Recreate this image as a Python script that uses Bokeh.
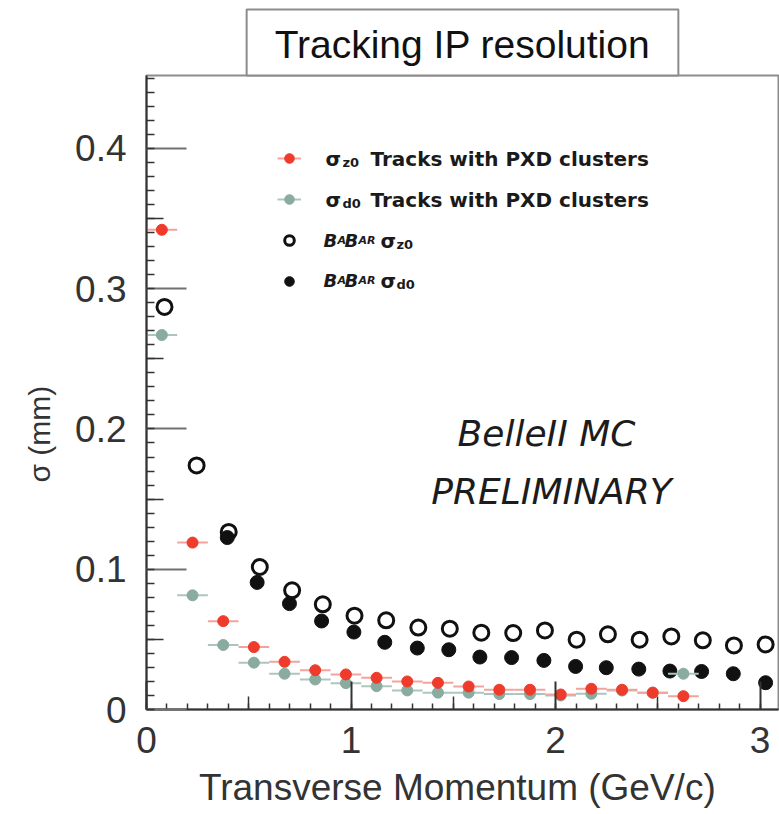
import numpy as np
from bokeh.plotting import figure
from bokeh.models import (ColumnDataSource, Label, Legend, LegendItem, LinearAxis,
                          FixedTicker, Range1d)
from bokeh.embed import file_html
from bokeh.resources import INLINE

# ---------------- data ----------------
pt_bins = [0.075, 0.225, 0.375, 0.525, 0.675, 0.825, 0.975, 1.125, 1.275,
           1.425, 1.575, 1.725, 1.875, 2.025, 2.175, 2.325, 2.475, 2.625]
bin_half_width = 0.075
sigma_z0_pxd = [0.342, 0.119, 0.063, 0.0445, 0.034, 0.028, 0.025, 0.0226, 0.020,
                0.019, 0.0164, 0.0141, 0.0141, 0.0107, 0.0148, 0.0141, 0.012, 0.0095]
sigma_d0_pxd = [0.267, 0.0814, 0.046, 0.0334, 0.0255, 0.0214, 0.0188, 0.0166, 0.0136,
                0.012, 0.012, 0.011, 0.011, 0.010, 0.0112, 0.0135, 0.012, 0.0255]

babar_z0_pt = [0.088, 0.245, 0.402, 0.554, 0.712, 0.862, 1.017, 1.172, 1.329, 1.483,
               1.637, 1.793, 1.948, 2.103, 2.256, 2.411, 2.566, 2.72, 2.872, 3.027]
babar_z0 = [0.287, 0.174, 0.1266, 0.1016, 0.085, 0.075, 0.0669, 0.0636, 0.0584, 0.0576,
            0.0548, 0.0545, 0.0564, 0.0498, 0.0536, 0.0498, 0.0521, 0.0493, 0.0457, 0.0464]
babar_d0_pt = [0.395, 0.541, 0.699, 0.856, 1.014, 1.165, 1.324, 1.478, 1.63,
               1.785, 1.943, 2.098, 2.248, 2.407, 2.559, 2.714, 2.869, 3.027]
babar_d0 = [0.1226, 0.0906, 0.0755, 0.0631, 0.0552, 0.0479, 0.0438, 0.0426, 0.0374,
            0.037, 0.035, 0.0307, 0.0298, 0.0288, 0.0274, 0.0271, 0.0255, 0.0191]

x_ticks = [0, 1, 2, 3]
x_tick_labels = ["0", "1", "2", "3"]
x_mid_ticks = [0.5, 1.5, 2.5]
y_ticks = [0, 0.1, 0.2, 0.3, 0.4]
y_tick_labels = ["0", "0.1", "0.2", "0.3", "0.4"]
y_mid_ticks = [0.05, 0.15, 0.25, 0.35]

title_text = "Tracking IP resolution"
x_title = "Transverse Momentum  (GeV/c)"
y_title = "\u03c3  (mm)"
watermark = ["BelleII MC", "PRELIMINARY"]

# ---------------- styles ----------------
RED = "#ee3b2c"
RED_ERR = "#f3a39c"
GRN = "#8aab9f"
GRN_ERR = "#adc6bd"
BLK = "#111111"
AXC = "#333333"
SANS = "Liberation Sans"
LEG = "DejaVu Sans"

p = figure(width=779, height=814, x_range=Range1d(0, 3.09), y_range=Range1d(0, 0.452),
           output_backend="svg", toolbar_location=None,
           min_border_left=146, min_border_right=1, min_border_top=75,
           min_border_bottom=105)
p.grid.visible = False
p.outline_line_color = "#8c8c8c"
p.outline_line_width = 2
p.background_fill_color = "white"
p.border_fill_color = "white"

# title box
p.title.text = title_text
p.title.align = "center"
p.title.text_font = SANS
p.title.text_font_size = "39px"
p.title.text_font_style = "normal"
p.title.text_color = "#111111"
p.title.border_line_color = "#8c8c8c"
p.title.border_line_width = 2
p.title.background_fill_color = "white"
p.title.padding = dict(top=13, right=28, bottom=10, left=28)
p.title.standoff = 0

# main axes
xa = p.xaxis[0]
xa.ticker = FixedTicker(ticks=x_ticks, minor_ticks=[round(i * 0.1, 1) for i in range(31)])
xa.major_label_overrides = {t: l for t, l in zip(x_ticks, x_tick_labels)}
xa.axis_line_color = AXC
xa.axis_line_width = 2
xa.major_tick_in = 28
xa.major_tick_out = 0
xa.major_tick_line_color = AXC
xa.major_tick_line_width = 2
xa.minor_tick_in = 6
xa.minor_tick_out = 0
xa.minor_tick_line_color = AXC
xa.minor_tick_line_width = 1.5
xa.major_label_text_font = SANS
xa.major_label_text_font_size = "37px"
xa.major_label_text_color = "#333333"
xa.major_label_standoff = 17
xa.axis_label = x_title
xa.axis_label_text_font = SANS
xa.axis_label_text_font_size = "37px"
xa.axis_label_text_font_style = "normal"
xa.axis_label_text_color = "#333333"
xa.axis_label_standoff = 11

ya = p.yaxis[0]
ya.ticker = FixedTicker(ticks=y_ticks, minor_ticks=[round(i * 0.01, 2) for i in range(46)])
ya.major_label_overrides = {t: l for t, l in zip(y_ticks, y_tick_labels)}
ya.axis_line_color = AXC
ya.axis_line_width = 2
ya.major_tick_in = 40
ya.major_tick_out = 0
ya.major_tick_line_color = "#707070"
ya.major_tick_line_width = 2
ya.minor_tick_in = 8
ya.minor_tick_out = 0
ya.minor_tick_line_color = AXC
ya.minor_tick_line_width = 1.5
ya.major_label_text_font = SANS
ya.major_label_text_font_size = "37px"
ya.major_label_text_color = "#333333"
ya.major_label_standoff = 20
ya.axis_label = y_title + "\u00a0" * 9
ya.axis_label_text_font = SANS
ya.axis_label_text_font_size = "30px"
ya.axis_label_text_font_style = "normal"
ya.axis_label_text_color = "#333333"
ya.axis_label_standoff = 16

# medium ticks (no labels)
x_mid = LinearAxis(fixed_location=0, ticker=FixedTicker(ticks=x_mid_ticks, minor_ticks=[]),
                   major_tick_in=13, major_tick_out=0, axis_line_color=None,
                   major_tick_line_color=AXC, major_tick_line_width=1.5,
                   major_label_text_font_size="0px", major_label_text_color=None,
                   major_label_standoff=0, minor_tick_in=0, minor_tick_out=0)
p.add_layout(x_mid, "below")
y_mid = LinearAxis(fixed_location=0, ticker=FixedTicker(ticks=y_mid_ticks, minor_ticks=[]),
                   major_tick_in=17, major_tick_out=0, axis_line_color=None,
                   major_tick_line_color=AXC, major_tick_line_width=1.5,
                   major_label_text_font_size="0px", major_label_text_color=None,
                   major_label_standoff=0, minor_tick_in=0, minor_tick_out=0)
p.add_layout(y_mid, "left")

# ---------------- data glyphs ----------------
src_d0 = ColumnDataSource(dict(x=pt_bins, y=sigma_d0_pxd,
                               x0=[v - bin_half_width for v in pt_bins],
                               x1=[v + bin_half_width for v in pt_bins]))
src_z0 = ColumnDataSource(dict(x=pt_bins, y=sigma_z0_pxd,
                               x0=[v - bin_half_width for v in pt_bins],
                               x1=[v + bin_half_width for v in pt_bins]))
src_bz = ColumnDataSource(dict(x=babar_z0_pt, y=babar_z0))
src_bd = ColumnDataSource(dict(x=babar_d0_pt, y=babar_d0))

r_bd = p.scatter("x", "y", source=src_bd, marker="circle", size=14,
                 fill_color=BLK, line_color=BLK)
r_bz = p.scatter("x", "y", source=src_bz, marker="circle", size=15,
                 fill_color=None, line_color=BLK, line_width=3)
r_d0e = p.segment(x0="x0", y0="y", x1="x1", y1="y", source=src_d0,
                  line_color=GRN_ERR, line_width=2)
r_d0 = p.scatter("x", "y", source=src_d0, marker="circle", size=11,
                 fill_color=GRN, line_color=GRN)
r_z0e = p.segment(x0="x0", y0="y", x1="x1", y1="y", source=src_z0,
                  line_color=RED_ERR, line_width=2)
r_z0 = p.scatter("x", "y", source=src_z0, marker="circle", size=11,
                 fill_color=RED, line_color=RED)

# ---------------- legend (symbols) ----------------
legend = Legend(items=[LegendItem(label=" ", renderers=[r_z0e, r_z0]),
                       LegendItem(label=" ", renderers=[r_d0e, r_d0]),
                       LegendItem(label=" ", renderers=[r_bz]),
                       LegendItem(label=" ", renderers=[r_bd])],
                location=(131, 416), padding=0, margin=0, spacing=17,
                glyph_width=24, glyph_height=24, label_height=24, label_width=1,
                label_standoff=0, border_line_color=None, background_fill_alpha=0,
                label_text_font_size="10px", label_text_color=None)
p.add_layout(legend)

# legend texts
def txt(x, y, t, size="20px", style="bold", font=LEG, color="#1a1a1a"):
    p.add_layout(Label(x=x, y=y, x_units="screen", y_units="screen", text=t,
                       text_font=font, text_font_size=size, text_font_style=style,
                       text_color=color, text_align="left", text_baseline="alphabetic"))

rows = [551, 510, 469, 429]
subs = ["z0", "d0", "z0", "d0"]
for i in range(2):
    txt(179, rows[i], "\u03c3")
    txt(196, rows[i] - 4, subs[i], size="13px")
    txt(224, rows[i], "Tracks with PXD clusters")
for i in range(2, 4):
    txt(177, rows[i], "B", size="18px", style="bold italic")
    txt(191, rows[i], "A", size="11px", style="bold italic")
    txt(198, rows[i], "B", size="18px", style="bold italic")
    txt(212, rows[i], "AR", size="11px", style="bold italic")
    txt(234, rows[i], "\u03c3")
    txt(250, rows[i] - 4, subs[i], size="13px")

# watermark
p.add_layout(Label(x=400, y=276, x_units="screen", y_units="screen", text=watermark[0],
                   text_font=LEG, text_font_size="36px", text_font_style="italic",
                   text_color="#1c1c1c", text_align="center", text_baseline="middle"))
p.add_layout(Label(x=405, y=218, x_units="screen", y_units="screen", text=watermark[1],
                   text_font=LEG, text_font_size="36px", text_font_style="italic",
                   text_color="#1c1c1c", text_align="center", text_baseline="middle"))

open("out.html", "w").write(file_html(p, INLINE))
